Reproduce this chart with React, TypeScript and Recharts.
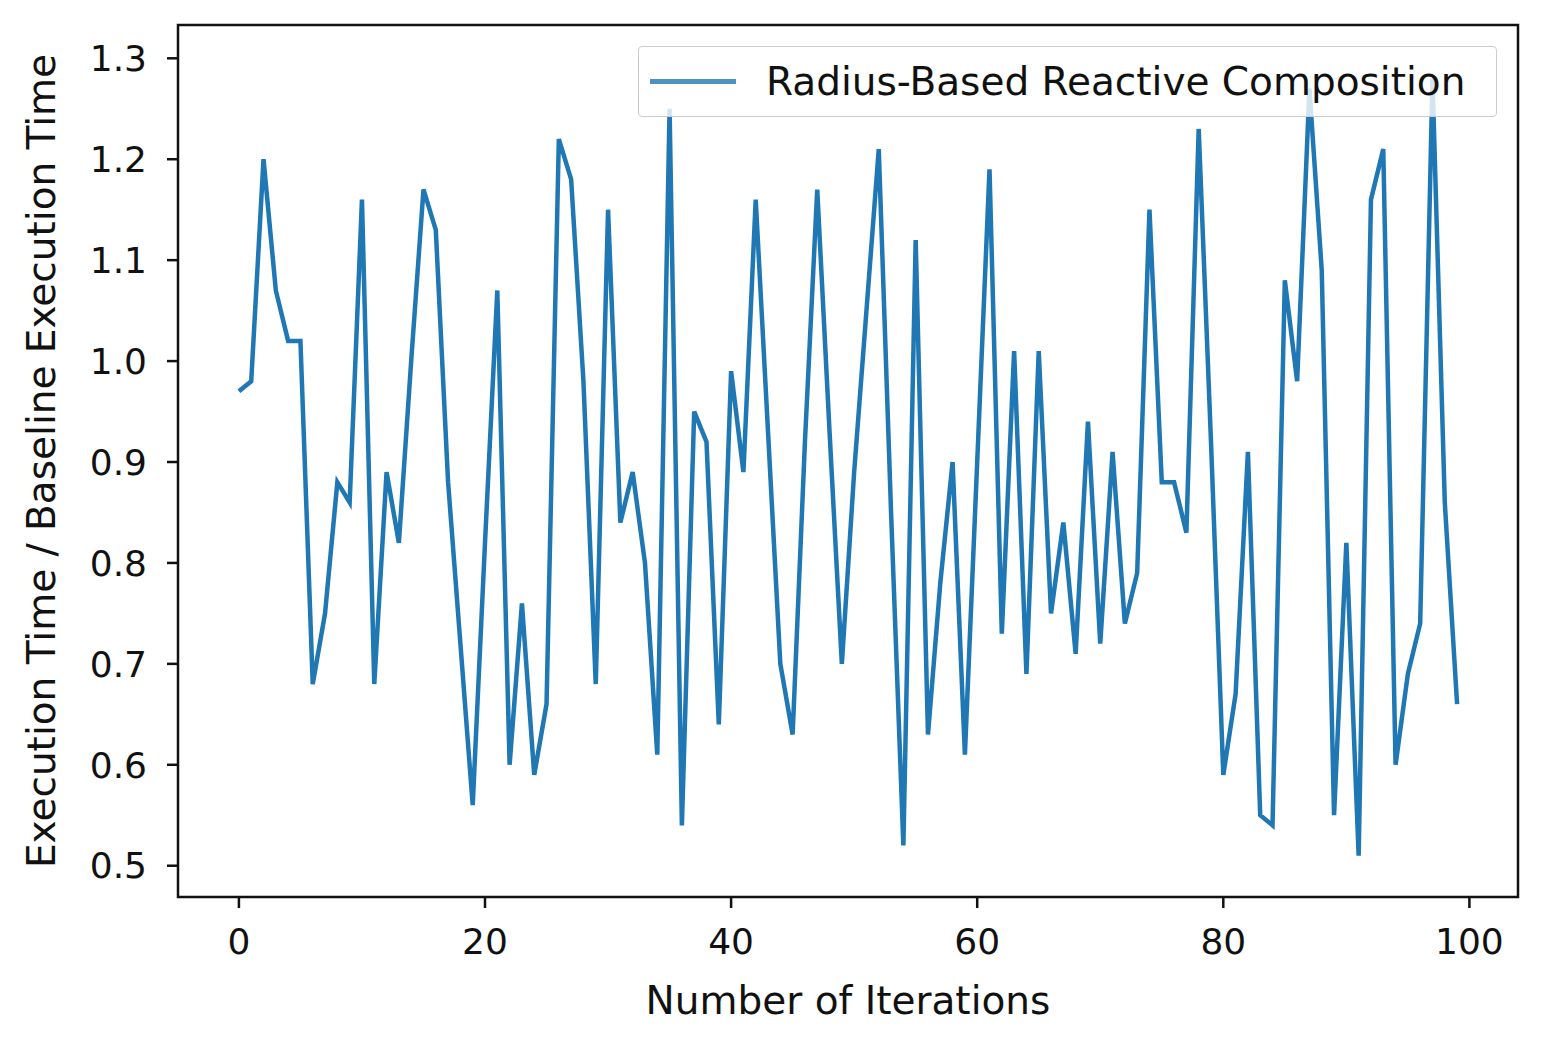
import React from "react";
import { Label, Legend, Line, LineChart, ReferenceArea, XAxis, YAxis } from "recharts";

// execution time ratio per iteration (iteration = index)
const ratioValues = [
  0.97, 0.98, 1.2, 1.07, 1.02, 1.02, 0.68, 0.75, 0.88, 0.86,
  1.16, 0.68, 0.89, 0.82, 1.0, 1.17, 1.13, 0.88, 0.72, 0.56,
  0.82, 1.07, 0.6, 0.76, 0.59, 0.66, 1.22, 1.18, 0.98, 0.68,
  1.15, 0.84, 0.89, 0.8, 0.61, 1.25, 0.54, 0.95, 0.92, 0.64,
  0.99, 0.89, 1.16, 0.93, 0.7, 0.63, 0.92, 1.17, 0.93, 0.7,
  0.89, 1.05, 1.21, 0.85, 0.52, 1.12, 0.63, 0.78, 0.9, 0.61,
  0.9, 1.19, 0.73, 1.01, 0.69, 1.01, 0.75, 0.84, 0.71, 0.94,
  0.72, 0.91, 0.74, 0.79, 1.15, 0.88, 0.88, 0.83, 1.23, 0.92,
  0.59, 0.67, 0.91, 0.55, 0.54, 1.08, 0.98, 1.27, 1.09, 0.55,
  0.82, 0.51, 1.16, 1.21, 0.6, 0.69, 0.74, 1.28, 0.86, 0.66
];
const xTicks = [0, 20, 40, 60, 80, 100];
const yTicks = [0.5, 0.6, 0.7, 0.8, 0.9, 1.0, 1.1, 1.2, 1.3];
const xDomain = [-4.95, 103.95];
const yDomain = [0.469, 1.333];
const seriesName = "Radius-Based Reactive Composition";

const FONT = "'DejaVu Sans', sans-serif";
const BLUE = "#1f77b4";

const data = ratioValues.map((ratio, iteration) => ({ iteration, ratio }));

const LegendBox = () => (
  <div
    style={{
      width: 859,
      height: 71,
      boxSizing: "border-box",
      border: "1.5px solid #cccccc",
      borderRadius: 4,
      background: "rgba(255,255,255,0.8)",
      display: "flex",
      alignItems: "center",
      fontFamily: FONT,
      fontSize: 39,
      color: "#111"
    }}>
    <div style={{ width: 86, height: 5, background: BLUE, marginLeft: 11, opacity: 0.8 }} />
    <span style={{ marginLeft: 30, whiteSpace: "nowrap" }}>{seriesName}</span>
  </div>
);

export default function App() {
  const tickStyle = { fontFamily: FONT, fontSize: 36, fill: "#111" };
  return (
    <div style={{ width: 1528, height: 1032 }}>
      <LineChart width={1528} height={1032} data={data} margin={{ top: 17, right: 18, bottom: 0, left: 0 }}>
        <XAxis
          dataKey="iteration"
          type="number"
          domain={xDomain}
          ticks={xTicks}
          allowDataOverflow
          height={143}
          tick={tickStyle}
          tickSize={11}
          tickMargin={20}
          stroke="#111"
          tickLine={{ stroke: "#111", strokeWidth: 2.5 }}
          axisLine={false}>
          <Label
            content={() => (
              <text x={840} y={1006} textAnchor="middle" fontFamily={FONT} fontSize={39} fill="#111">
                Number of Iterations
              </text>
            )}
          />
        </XAxis>
        <YAxis
          type="number"
          domain={yDomain}
          ticks={yTicks}
          allowDataOverflow
          width={170}
          tick={tickStyle}
          tickFormatter={(v) => v.toFixed(1)}
          tickSize={11}
          tickMargin={20}
          stroke="#111"
          tickLine={{ stroke: "#111", strokeWidth: 2.5 }}
          axisLine={false}>
          <Label
            content={() => (
              <text
                x={47}
                y={453}
                transform="rotate(-90 47 453)"
                textAnchor="middle"
                fontFamily={FONT}
                fontSize={39}
                fill="#111">
                Execution Time / Baseline Execution Time
              </text>
            )}
          />
        </YAxis>
        <Line
          type="linear"
          dataKey="ratio"
          name={seriesName}
          stroke={BLUE}
          strokeWidth={4.5}
          dot={false}
          activeDot={false}
          isAnimationActive={false}
        />
        <ReferenceArea
          x1={xDomain[0]}
          x2={xDomain[1]}
          y1={yDomain[0]}
          y2={yDomain[1]}
          fill="none"
          stroke="#111"
          strokeWidth={2.5}
        />
        <Legend
          layout="horizontal"
          verticalAlign="middle"
          align="center"
          content={() => <LegendBox />}
          wrapperStyle={{ position: "absolute", left: 630, top: 38, width: 859 }}
        />
      </LineChart>
    </div>
  );
}
